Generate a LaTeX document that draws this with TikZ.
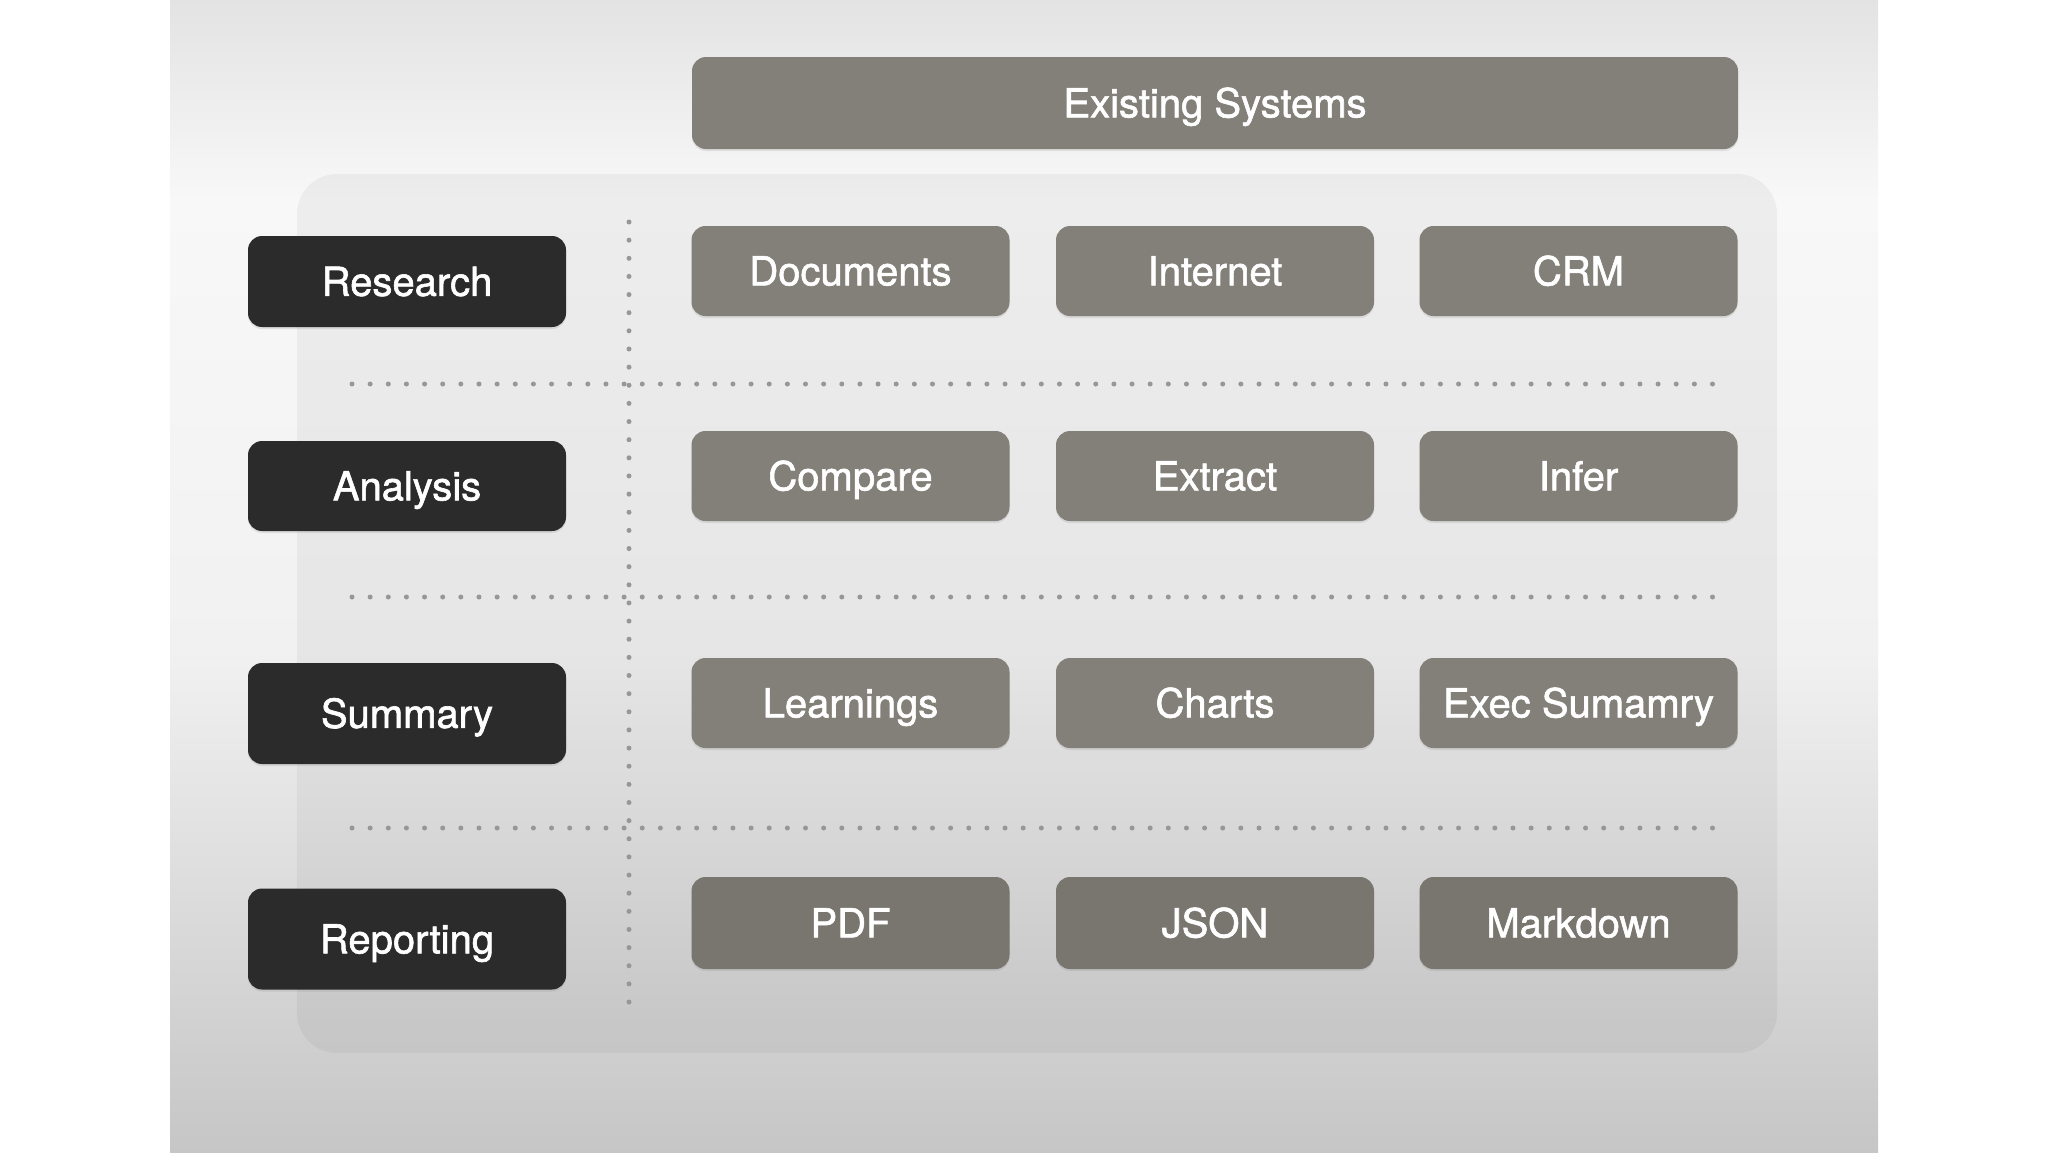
\documentclass[tikz,border=0pt]{standalone}
\usepackage{fontspec}
\setmainfont{TeX Gyre Heros}[FakeBold=1.5]
\usetikzlibrary{shadows}
\definecolor{bgTop}{HTML}{E3E3E3}
\definecolor{bgLight}{HTML}{F8F8F8}
\definecolor{bgMid}{HTML}{F1F1F1}
\definecolor{bgBot}{HTML}{C6C6C6}
\definecolor{darkbox}{HTML}{2B2B2B}
\definecolor{greybox}{HTML}{837F79}
\definecolor{dotgrey}{HTML}{979797}
\tikzset{
  boxbase/.style={rounded corners=14pt, inner sep=0pt, text=white,
    font=\fontsize{40}{47}\selectfont, text height=28.7pt, text depth=0pt,
    minimum width=318pt,
    drop shadow={opacity=0.18, shadow xshift=0pt, shadow yshift=-2pt}},
  stagebox/.style={boxbase, fill=darkbox},
  itembox/.style={boxbase, fill=greybox, minimum height=90pt},
  dotline/.style={draw=dotgrey, line width=5pt, line cap=round,
    dash pattern=on 0pt off 18.14pt},
}
\begin{document}
\begin{tikzpicture}[x=1pt,y=-1pt]
\useasboundingbox (0,0) rectangle (2048,1152);
\fill[white] (0,0) rectangle (2048,1152);
% slide background
\shade[top color=bgTop, bottom color=bgLight] (170,0) rectangle (1878,201);
\shade[top color=bgLight, bottom color=bgMid] (170,200) rectangle (1878,651);
\shade[top color=bgMid, bottom color=bgBot] (170,650) rectangle (1878,1152);
% panel
\fill[black, fill opacity=0.045, rounded corners=40pt] (297,174) rectangle (1777,1053);
% dotted separators
\draw[dotline] (629,222) -- (629,1003);
\draw[dotline] (352,384) -- (1714,384);
\draw[dotline] (352,597) -- (1714,597);
\draw[dotline] (352,828) -- (1714,828);
% top bar
\node[itembox, minimum width=1046pt, minimum height=92pt] (existing) at (1215,103) {Existing Systems};
% stages
\node[stagebox, minimum height=91pt] (research) at (407,281.5) {Research};
\node[stagebox, minimum height=90pt] (analysis) at (407,486) {Analysis};
\node[stagebox, minimum height=101pt] (summary) at (407,713.5) {Summary};
\node[stagebox, minimum height=101pt] (reporting) at (407,939) {Reporting};
% items
\node[itembox] (documents) at (850.5,271) {Documents};
\node[itembox] (internet) at (1215,271) {Internet};
\node[itembox] (crm) at (1578.5,271) {CRM};
\node[itembox] (compare) at (850.5,476) {Compare};
\node[itembox] (extract) at (1215,476) {Extract};
\node[itembox] (infer) at (1578.5,476) {Infer};
\node[itembox] (learnings) at (850.5,703) {Learnings};
\node[itembox] (charts) at (1215,703) {Charts};
\node[itembox] (execsum) at (1578.5,703) {Exec Sumamry};
\node[itembox, minimum height=92pt, fill=greybox!92!black] (pdf) at (850.5,923) {PDF};
\node[itembox, minimum height=92pt, fill=greybox!92!black] (json) at (1215,923) {JSON};
\node[itembox, minimum height=92pt, fill=greybox!92!black] (markdown) at (1578.5,923) {Markdown};
\end{tikzpicture}
\end{document}
